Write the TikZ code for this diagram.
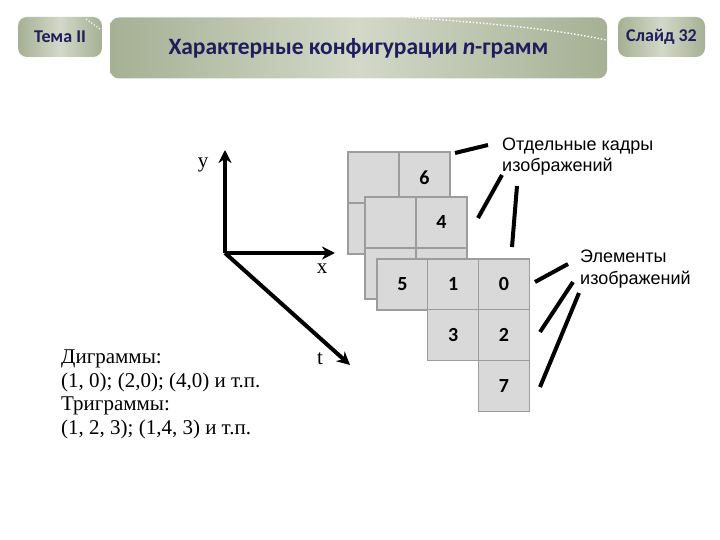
\documentclass[tikz,border=0pt]{standalone}
\usepackage{fontspec}
\setmainfont{Liberation Serif}
\setsansfont{Liberation Sans}
\newfontfamily\headfont{Carlito}
\usetikzlibrary{arrows.meta}

\definecolor{cellfill}{HTML}{D9D9D9}
\definecolor{cellline}{HTML}{9C9C9C}
\definecolor{headtext}{HTML}{1F1D5C}
\definecolor{boxdark}{HTML}{A5B094}
\definecolor{boxlight}{HTML}{D3D8C8}

\begin{document}
\begin{tikzpicture}[x=1pt,y=-1pt,
  cell/.style={draw=cellline, fill=cellfill, line width=1.4pt, minimum size=51pt,
    inner sep=0pt, font=\headfont\bfseries\fontsize{20}{20}\selectfont},
  headbox/.style={rounded corners=9pt, left color=boxdark, right color=boxdark,
    middle color=boxlight, inner sep=0pt, text=headtext},
  axis/.style={line width=4pt, -{Stealth[length=13pt,width=13pt]}},
  pointer/.style={line width=4pt},
  note/.style={anchor=north west, align=left, inner sep=0pt}]
  \useasboundingbox (0,0) rectangle (720,540);

  % header
  \node[headbox, minimum width=84pt, minimum height=40pt,
    font=\headfont\bfseries\fontsize{18}{18}\selectfont] (tema) at (60,37) {Тема II};
  \node[headbox, minimum width=497pt, minimum height=61pt,
    font=\headfont\bfseries\fontsize{23.5}{23.5}\selectfont] (title) at (358.5,48)
    {Характерные конфигурации \textit{n}-грамм};
  \node[headbox, minimum width=87pt, minimum height=40pt,
    font=\headfont\bfseries\fontsize{18}{18}\selectfont] (slide) at (661.5,37) {Слайд 32};
  \draw[white, dotted, line width=1.4pt] (405,17) .. controls (500,24) and (560,30) .. (606,40);
  \draw[white, dotted, line width=1.2pt] (86,19) -- (100,29);

  % axes
  \coordinate (O) at (225,253);
  \coordinate (ytip) at (225,150);
  \coordinate (xtip) at (335,253);
  \coordinate (ttip) at (350,365);
  \draw[axis] (O) -- (ytip);
  \draw[axis] (O) -- (xtip);
  \draw[axis] (O) -- (ttip);
  \node[anchor=base, font=\fontsize{21}{21}\selectfont] (ylab) at (203,168) {y};
  \node[anchor=base, font=\fontsize{21}{21}\selectfont] (xlab) at (322,273) {x};
  \node[anchor=base, font=\fontsize{21}{21}\selectfont] (tlab) at (320,364) {t};

  % frames
  \foreach \i/\j/\name/\txt in {0/0/a/{}, 1/0/b/6, 0/1/c/{}, 1/1/d/{}}
    \node[cell] (f1\name) at ({373.5+51*\i},{177.5+51*\j}) {\txt};
  \foreach \i/\j/\name/\txt in {0/0/a/{}, 1/0/b/4, 0/1/c/{}, 1/1/d/{}}
    \node[cell] (f2\name) at ({390.5+51*\i},{222.5+51*\j}) {\txt};
  \foreach \i/\j/\txt in {0/0/5, 1/0/1, 2/0/0, 1/1/3, 2/1/2, 2/2/7}
    \node[cell] (n\txt) at ({402.5+50.7*\i},{284.5+50.7*\j}) {\txt};

  % labels
  \node[note, font=\sffamily\fontsize{18}{21}\selectfont] (kadr) at (502,138)
    {Отдельные кадры\\изображений};
  \node[note, font=\sffamily\fontsize{18}{22}\selectfont] (elem) at (580,250)
    {Элементы\\изображений};
  \node[note, font=\fontsize{21}{23.5}\selectfont] (ngram) at (61,350)
    {Диграммы:\\(1, 0); (2,0); (4,0) и т.п.\\Триграммы:\\(1, 2, 3); (1,4, 3) и т.п.};

  % pointers
  \coordinate (k1) at (488,145); \coordinate (k1e) at (455,153);
  \coordinate (k2) at (502,175); \coordinate (k2e) at (478,218);
  \coordinate (k3) at (517,186); \coordinate (k3e) at (512,247);
  \coordinate (e1) at (568,264); \coordinate (e1e) at (535,282);
  \coordinate (e2) at (573,282); \coordinate (e2e) at (540,332);
  \coordinate (e3) at (579,293); \coordinate (e3e) at (540,387);
  \foreach \a in {k1,k2,k3,e1,e2,e3}
    \draw[pointer] (\a) -- (\a e);
\end{tikzpicture}
\end{document}
